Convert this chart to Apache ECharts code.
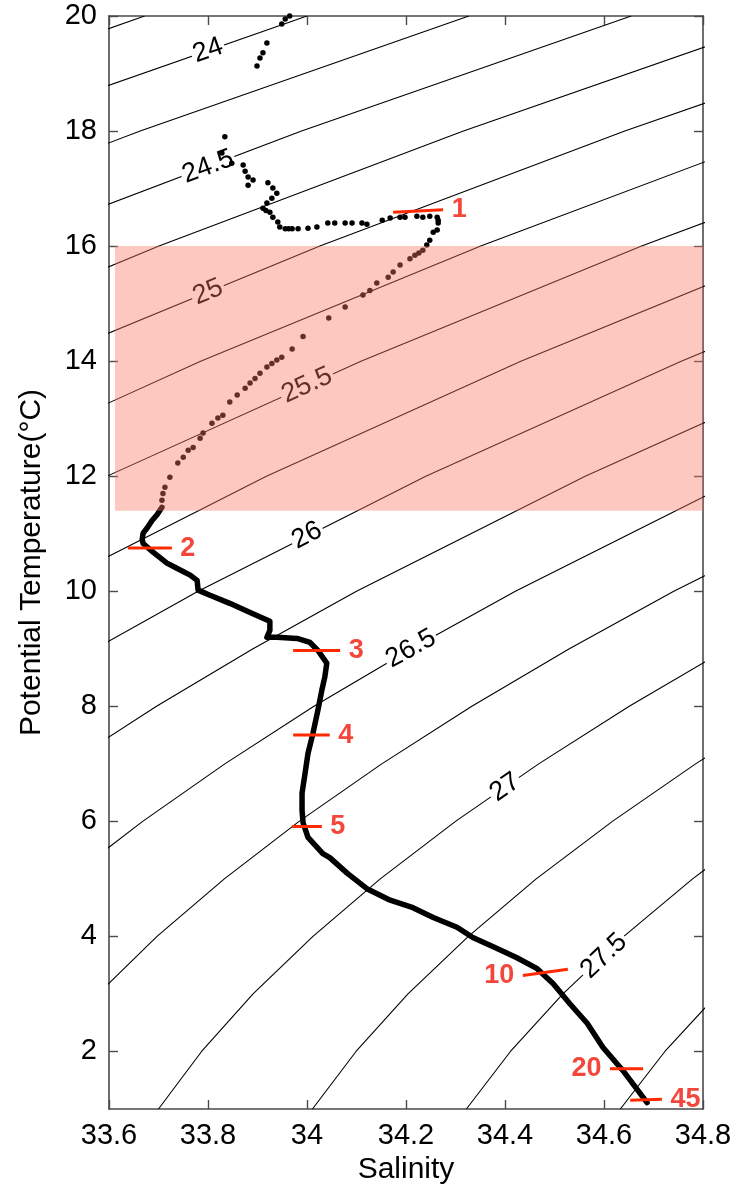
<!DOCTYPE html>
<html>
<head>
<meta charset="utf-8">
<script src="https://cdn.jsdelivr.net/npm/echarts@6/dist/echarts.min.js"></script>
<style>
html,body{margin:0;padding:0;background:#fff;}
#chart{width:740px;height:1192px;}
</style>
</head>
<body>
<div id="chart"></div>
<script>
// ---------------- DATA ----------------
const xRange = [33.6, 34.8];
const yRange = [1, 20];
const yTicks = [2, 4, 6, 8, 10, 12, 14, 16, 18, 20];

// density (sigma-theta) contours: [salinity, potential temperature]
const c2375 = [[33.010,18],[33.672,20]];
const c2400 = [[33.336,18],[34.000,20]];
const c2425 = [[33.050,16],[33.663,18],[34.327,20]];
const c2450 = [[33.376,16],[33.989,18],[34.655,20]];
const c2475 = [[33.138,14],[33.701,16],[34.316,18],[34.983,20]];
const c2500 = [[33.462,14],[34.026,16],[34.642,18],[35.311,20]];
const c2525 = [[33.274,12],[33.785,14],[34.351,16],[34.969,18]];
const c2550 = [[33.596,12],[34.109,14],[34.676,16],[35.295,18]];
const c2575 = [[33.460,10],[33.918,12],[34.432,14],[35.001,16]];
const c2600 = [[33.572,9],[33.780,10],[34.240,12],[34.756,14],[35.326,16]];
const c2625 = [[33.516,7],[33.696,8],[33.891,9],[34.100,10],[34.562,12],[35.079,14]];
const c2650 = [[33.517,5],[33.668,6],[33.834,7],[34.014,8],[34.211,9],[34.421,10],[34.884,12]];
const c2675 = [[33.578,3],[33.697,4],[33.833,5],[33.984,6],[34.151,7],[34.333,8],[34.530,9],[34.741,10],[35.206,12]];
const c2700 = [[33.700,1],[33.787,2],[33.891,3],[34.012,4],[34.148,5],[34.300,6],[34.468,7],[34.651,8],[34.849,9]];
const c2725 = [[34.011,1],[34.099,2],[34.204,3],[34.326,4],[34.463,5],[34.617,6],[34.785,7],[34.969,8]];
const c2750 = [[34.322,1],[34.411,2],[34.517,3],[34.640,4],[34.779,5],[34.933,6]];
const c2775 = [[34.633,1],[34.723,2],[34.830,3]];
const contourPaths = [c2375,c2400,c2425,c2450,c2475,c2500,c2525,c2550,c2575,c2600,c2625,c2650,c2675,c2700,c2725,c2750,c2775];

// contour labels
const contourLabelText = ['24','24.5','25','25.5','26','26.5','27','27.5'];
const contourLabelS = [33.80, 33.80, 33.80, 34.00, 34.00, 34.21, 34.40, 34.60];
const contourLabelT = [19.40, 17.38, 15.20, 13.58, 10.97, 9.00, 6.59, 3.66];

// profile: sparse samples (upper part), drawn as dots
const profileDots = [
 [33.965,20.0],[33.956,19.95],[33.949,19.86],[33.919,19.53],[33.911,19.36],[33.905,19.27],[33.899,19.13],
 [33.834,17.90],[33.828,17.62],[33.848,17.44],[33.871,17.41],[33.875,17.30],[33.881,17.20],[33.891,17.15],
 [33.881,17.06],[33.921,17.10],[33.931,17.01],[33.939,16.92],[33.929,16.83],[33.919,16.75],[33.911,16.66],
 [33.917,16.62],[33.925,16.59],[33.931,16.50],[33.941,16.42],[33.945,16.33],[33.956,16.30],[33.963,16.30],
 [33.970,16.30],[33.982,16.30],[34.002,16.31],[34.020,16.33],[34.042,16.40],[34.056,16.40],[34.077,16.40],
 [34.091,16.40],[34.111,16.40],[34.121,16.38],[34.152,16.45],[34.168,16.49],[34.188,16.50],[34.198,16.50],
 [34.222,16.52],[34.234,16.50],[34.248,16.52],[34.263,16.50],[34.265,16.45],[34.265,16.40],[34.263,16.28],
 [34.255,16.24],[34.248,16.10],[34.242,16.02],[34.234,15.93],[34.226,15.88],[34.218,15.84],[34.208,15.78],
 [34.188,15.67],[34.174,15.55],[34.164,15.46],[34.141,15.36],[34.127,15.23],[34.113,15.15],[34.077,14.94],
 [34.044,14.75],[33.992,14.43],[33.970,14.21],[33.949,14.07],[33.939,14.02],[33.929,13.96],[33.919,13.90],
 [33.905,13.79],[33.895,13.70],[33.885,13.62],[33.875,13.53],[33.859,13.41],[33.844,13.29],[33.830,13.06],
 [33.820,13.01],[33.808,12.92],[33.790,12.75],[33.784,12.66],[33.770,12.50],[33.760,12.45],[33.750,12.33],
 [33.739,12.23],[33.723,11.98],[33.713,11.81],[33.709,11.70],[33.707,11.58]
];
// profile: continuous part (lower)
const profileLine = [
 [33.707,11.46],[33.697,11.33],[33.687,11.23],[33.677,11.10],[33.669,11.01],[33.667,10.90],[33.669,10.83],
 [33.689,10.68],[33.717,10.49],[33.737,10.40],[33.764,10.28],[33.778,10.19],[33.780,10.02],[33.804,9.93],
 [33.844,9.79],[33.885,9.63],[33.925,9.48],[33.925,9.32],[33.919,9.20],[33.939,9.20],[33.980,9.18],
 [34.006,9.11],[34.022,8.97],[34.040,8.75],[34.036,8.51],[34.030,8.28],[34.022,7.93],[34.012,7.53],
 [34.002,7.18],[33.996,6.83],[33.990,6.49],[33.990,6.19],[33.992,5.98],[34.002,5.72],[34.032,5.44],
 [34.046,5.37],[34.081,5.10],[34.121,4.83],[34.168,4.63],[34.214,4.50],[34.255,4.33],[34.303,4.16],
 [34.335,3.98],[34.384,3.79],[34.424,3.63],[34.465,3.44],[34.497,3.18],[34.531,2.83],[34.566,2.49],
 [34.598,2.07],[34.638,1.67],[34.673,1.27],[34.687,1.11]
];

// shaded band
const bandS = [33.612, 34.8];
const bandT = [11.4, 16.0];

// depth markers
const markerText = ['1','2','3','4','5','10','20','45'];
const markerS0 = [34.174, 33.638, 33.972, 33.972, 33.970, 34.436, 34.612, 34.653];
const markerS1 = [34.275, 33.727, 34.067, 34.046, 34.030, 34.527, 34.679, 34.717];
const markerT0 = [16.59, 10.75, 8.97, 7.50, 5.91, 3.32, 1.70, 1.15];
const markerT1 = [16.63, 10.75, 8.97, 7.50, 5.91, 3.43, 1.70, 1.17];

// ---------------- STYLE ----------------
const FONT = 'Liberation Sans, Arial, Helvetica, sans-serif';
const axisColor = '#4a4a4a';
const contourLabelRotate = [19.3, 20.7, 22.4, 24.4, 26.8, 28.9, 34.7, 43.5];
const markerSide = ['right','right','right','right','right','left','left','right'];

const chart = echarts.init(document.getElementById('chart'));

const frameAxis = (extra) => Object.assign({
  type: 'value',
  axisLine: {show: true, onZero: false, lineStyle: {color: axisColor, width: 1.6}},
  axisTick: {show: true, inside: true, length: 9, lineStyle: {color: axisColor, width: 1.4}},
  splitLine: {show: false}
}, extra);

const series = [];

contourPaths.forEach((p) => {
  series.push({
    type: 'line', data: p, symbol: 'none', showSymbol: false, silent: true,
    lineStyle: {color: '#000', width: 1.1}, z: 1, clip: true, animation: false
  });
});

series.push({
  type: 'scatter', silent: true, z: 2, symbolSize: 1,
  itemStyle: {color: 'rgba(0,0,0,0)', opacity: 1},
  label: {
    show: true, position: 'inside', formatter: '{b}', color: '#000', opacity: 1,
    fontFamily: FONT, fontSize: 27, backgroundColor: '#fff', padding: [0, 2]
  },
  data: contourLabelText.map((t, i) => ({
    name: t, value: [contourLabelS[i], contourLabelT[i]],
    label: {rotate: contourLabelRotate[i]}
  }))
});

series.push({
  type: 'scatter', data: profileDots, symbol: 'circle', symbolSize: 5.5,
  itemStyle: {color: '#000', opacity: 1}, z: 3, silent: true
});

series.push({
  type: 'line', data: profileLine, symbol: 'none', showSymbol: false, silent: true,
  lineStyle: {color: '#000', width: 5.5, join: 'round', cap: 'round'}, z: 3
});

series.push({
  type: 'custom', coordinateSystem: 'cartesian2d', silent: true, z: 4,
  data: [[bandS[0], bandS[1], bandT[0], bandT[1]]],
  encode: {x: [0, 1], y: [2, 3]},
  renderItem: (params, api) => {
    const p0 = api.coord([api.value(0), api.value(3)]);
    const p1 = api.coord([api.value(1), api.value(2)]);
    return {
      type: 'rect',
      shape: {x: p0[0], y: p0[1], width: p1[0] - p0[0], height: p1[1] - p0[1]},
      style: {fill: 'rgba(250,118,98,0.4)'}
    };
  }
});

markerText.forEach((t, i) => {
  series.push({
    type: 'line', symbol: 'none', showSymbol: false, silent: true, z: 5,
    data: [[markerS0[i], markerT0[i]], [markerS1[i], markerT1[i]]],
    lineStyle: {color: '#ff2a00', width: 3}
  });
});

series.push({
  type: 'scatter', silent: true, z: 6, symbolSize: 1,
  itemStyle: {color: 'rgba(0,0,0,0)', opacity: 1},
  label: {show: true, formatter: '{b}', color: '#f4473c', opacity: 1, fontFamily: FONT, fontSize: 27, fontWeight: 'bold', distance: 8},
  data: markerText.map((t, i) => ({
    name: t,
    value: markerSide[i] === 'right' ? [markerS1[i], markerT1[i]] : [markerS0[i], markerT0[i]],
    label: {position: markerSide[i]}
  }))
});

chart.setOption({
  animation: false,
  backgroundColor: '#fff',
  grid: {left: 109, right: 37, top: 16, bottom: 83},
  xAxis: [
    frameAxis({
      min: xRange[0], max: xRange[1], interval: 0.2, position: 'bottom',
      name: 'Salinity', nameLocation: 'middle', nameGap: 46,
      nameTextStyle: {fontFamily: FONT, fontSize: 30, color: '#000'},
      axisLabel: {margin: 12, fontFamily: FONT, fontSize: 29, color: '#000'}
    }),
    frameAxis({
      min: xRange[0], max: xRange[1], interval: 0.2, position: 'top',
      axisLabel: {show: false}
    })
  ],
  yAxis: [
    frameAxis({
      min: yRange[0], max: yRange[1], position: 'left',
      name: 'Potential Temperature(°C)', nameLocation: 'middle', nameGap: 62, nameRotate: 90,
      nameTextStyle: {fontFamily: FONT, fontSize: 30, color: '#000'},
      axisTick: {show: true, inside: true, length: 9, customValues: yTicks, lineStyle: {color: axisColor, width: 1.4}},
      axisLabel: {margin: 12, fontFamily: FONT, fontSize: 29, color: '#000', customValues: yTicks}
    }),
    frameAxis({
      min: yRange[0], max: yRange[1], position: 'right',
      axisTick: {show: true, inside: true, length: 9, customValues: yTicks, lineStyle: {color: axisColor, width: 1.4}},
      axisLabel: {show: false}
    })
  ],
  series: series
});
</script>
</body>
</html>
